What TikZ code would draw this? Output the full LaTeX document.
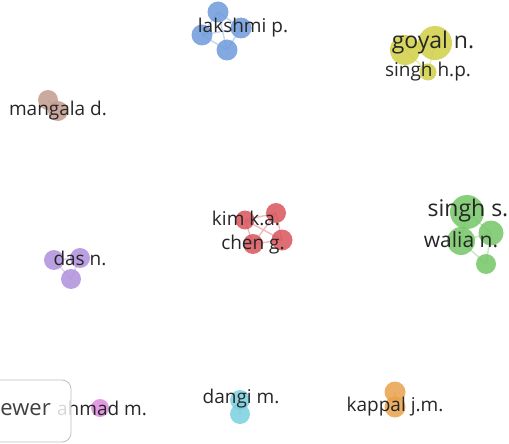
\documentclass[tikz,border=0pt]{standalone}
\usepackage{fontspec}
\setmainfont{Open Sans}
\begin{document}
\begin{tikzpicture}[x=1pt,y=-1pt,
  ball/.style={circle,inner sep=0pt,minimum size=#1,fill opacity=0.85},
  link/.style={line width=1.4pt,opacity=0.4},
  lab/.style={inner sep=0pt,text=black!85,font=\fontsize{19}{19}\selectfont},
  bigl/.style={inner sep=0pt,text=black!85,font=\fontsize{23}{23}\selectfont}]
\definecolor{cblue}{HTML}{6E9BDB}
\definecolor{cyel}{HTML}{CFCF45}
\definecolor{cbrown}{HTML}{C49A8E}
\definecolor{cred}{HTML}{D9545C}
\definecolor{cgreen}{HTML}{74C666}
\definecolor{cpurp}{HTML}{B090DC}
\definecolor{cpink}{HTML}{DD8ADD}
\definecolor{ccyan}{HTML}{7ACFE0}
\definecolor{corng}{HTML}{E9A24C}
\useasboundingbox[fill=white] (0,0) rectangle (509,444);
% coordinates
\coordinate (b1) at (218,12); \coordinate (b2) at (202,35);
\coordinate (b3) at (241,28); \coordinate (b4) at (227,50);
\coordinate (y1) at (405,50); \coordinate (y2) at (435,43); \coordinate (y3) at (428,72);
\coordinate (m1) at (48,100); \coordinate (m2) at (58,111);
\coordinate (r1) at (276,213); \coordinate (r2) at (282,240);
\coordinate (r3) at (253,244); \coordinate (r4) at (245,220);
\coordinate (g1) at (467,212); \coordinate (g2) at (491,233);
\coordinate (g3) at (461,241); \coordinate (g4) at (486,264);
\coordinate (p1) at (54,260); \coordinate (p2) at (80,258); \coordinate (p3) at (71,279);
\coordinate (k1) at (100,408);
\coordinate (c1) at (240,400); \coordinate (c2) at (240,414);
\coordinate (o1) at (395,392); \coordinate (o2) at (395,407);
% links
\draw[link,cblue] (b1)--(b2) (b1)--(b3) (b2)--(b4) (b3)--(b4) (b2)--(b3) (b1)--(b4);
\draw[link,cyel] (y1)--(y2) (y2)--(y3) (y1)--(y3);
\draw[link,cbrown] (m1)--(m2);
\draw[link,cred] (r1)--(r2) (r1)--(r3) (r1)--(r4) (r2)--(r3) (r2)--(r4) (r3)--(r4);
\draw[link,cgreen] (g1)--(g2) (g1)--(g3) (g2)--(g3) (g3)--(g4) (g2)--(g4);
\draw[link,cpurp] (p1)--(p2) (p1)--(p3) (p2)--(p3);
\draw[link,ccyan] (c1)--(c2);
\draw[link,corng] (o1)--(o2);
% balls
\node[ball=21pt,fill=cblue] (nb1) at (b1) {};
\node[ball=21pt,fill=cblue] (nb2) at (b2) {};
\node[ball=21pt,fill=cblue] (nb3) at (b3) {};
\node[ball=21pt,fill=cblue] (nb4) at (b4) {};
\node[ball=30pt,fill=cyel] (ny1) at (y1) {};
\node[ball=34pt,fill=cyel] (ny2) at (y2) {};
\node[ball=17pt,fill=cyel] (ny3) at (y3) {};
\node[ball=20pt,fill=cbrown] (nm1) at (m1) {};
\node[ball=20pt,fill=cbrown] (nm2) at (m2) {};
\node[ball=20pt,fill=cred] (nr1) at (r1) {};
\node[ball=21pt,fill=cred] (nr2) at (r2) {};
\node[ball=20pt,fill=cred] (nr3) at (r3) {};
\node[ball=19pt,fill=cred] (nr4) at (r4) {};
\node[ball=34pt,fill=cgreen] (ng1) at (g1) {};
\node[ball=25pt,fill=cgreen] (ng2) at (g2) {};
\node[ball=28pt,fill=cgreen] (ng3) at (g3) {};
\node[ball=20pt,fill=cgreen] (ng4) at (g4) {};
\node[ball=20pt,fill=cpurp] (np1) at (p1) {};
\node[ball=20pt,fill=cpurp] (np2) at (p2) {};
\node[ball=20pt,fill=cpurp] (np3) at (p3) {};
\node[ball=18pt,fill=cpink] (nk1) at (k1) {};
\node[ball=20pt,fill=ccyan] (nc1) at (c1) {};
\node[ball=20pt,fill=ccyan] (nc2) at (c2) {};
\node[ball=21pt,fill=corng] (no1) at (o1) {};
\node[ball=21pt,fill=corng] (no2) at (o2) {};
% labels
\node[lab] (tl) at (243,28) {lakshmi p.};
\node[bigl] (tg) at (433,43) {goyal n.};
\node[lab] (ts) at (428,72) {singh h.p.};
\node[lab] (tm) at (58,111) {mangala d.};
\node[lab] (tk) at (246,218) {kim k.a.};
\node[lab] (tc) at (253,245) {chen g.};
\node[bigl] (tss) at (468,211) {singh s.};
\node[bigl,font=\fontsize{21}{21}\selectfont] (tw) at (461,240) {walia n.};
\node[lab] (td) at (80,258) {das n.};
\node[lab] (ta) at (102,408) {ahmad m.};
\node[lab] (tdg) at (241,399) {dangi m.};
\node[lab] (tkp) at (395,407) {kappal j.m.};
% viewer box
\draw[rounded corners=9pt,draw=black!25,fill=white,fill opacity=0.82,line width=0.8pt]
  (-20,380) rectangle (71,442);
\node[bigl,anchor=east,text=black!75,font=\fontsize{22}{22}\selectfont] (tv) at (51,410) {ewer};
\end{tikzpicture}
\end{document}
